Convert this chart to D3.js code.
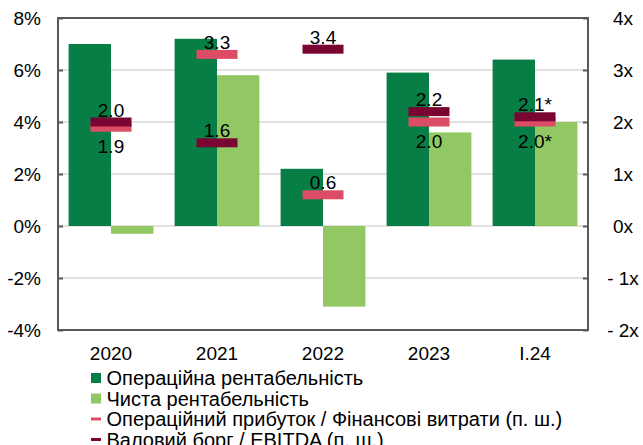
<!DOCTYPE html>
<html>
<head>
<meta charset="utf-8">
<script src="https://cdn.jsdelivr.net/npm/d3@7"></script>
<style>
  body { margin: 0; background: #fff; }
  svg { font-family: "Liberation Sans", Arial, sans-serif; }
</style>
</head>
<body>
<svg id="chart"></svg>
<script>
const categories = ["2020", "2021", "2022", "2023", "I.24"];
const opMargin = [7.0, 7.2, 2.2, 5.9, 6.4];
const netMargin = [-0.3, 5.8, -3.1, 3.6, 4.0];
const opProfitToFin = [1.9, 3.3, 0.6, 2.0, 2.0];
const debtToEbitda = [2.0, 1.6, 3.4, 2.2, 2.1];
const labelNote = ["", "", "", "", "*"];
const pinkLabelPos = ["below", "above", "above", "below", "below"];
const darkLabelPos = ["above", "above", "above", "above", "above"];
const leftTicks = [-4, -2, 0, 2, 4, 6, 8];
const rightTicks = [-2, -1, 0, 1, 2, 3, 4];
const legendItems = [
  {name: "Операційна рентабельність", color: "#077e45", type: "rect"},
  {name: "Чиста рентабельність", color: "#92c864", type: "rect"},
  {name: "Операційний прибуток / Фінансові витрати (п. ш.)", color: "#dc4c64", type: "line"},
  {name: "Валовий борг / EBITDA (п. ш.)", color: "#7a0532", type: "line"}
];

const width = 643, height = 445;
const plotLeft = 58, plotRight = 588, plotTop = 18, plotBottom = 330;
const fontSize = "19px";

const svg = d3.select("#chart").attr("width", width).attr("height", height);

const x = d3.scaleBand().domain(categories).range([plotLeft, plotRight])
  .paddingInner(0.2).paddingOuter(0.1);
const x1 = d3.scaleBand().domain(["op", "net"]).range([0, x.bandwidth()]);
const y = d3.scaleLinear().domain([-4, 8]).range([plotBottom, plotTop]);
const y2 = d3.scaleLinear().domain([-2, 4]).range([plotBottom, plotTop]);

// сітка
svg.append("g").selectAll("line").data(leftTicks).join("line")
  .attr("x1", plotLeft).attr("x2", plotRight)
  .attr("y1", d => y(d)).attr("y2", d => y(d))
  .attr("stroke", "#d9d9d9").attr("stroke-width", 1.5);

// стовпці
const barData = [];
categories.forEach((c, i) => {
  barData.push({c: c, key: "op", v: opMargin[i], color: "#077e45"});
  barData.push({c: c, key: "net", v: netMargin[i], color: "#92c864"});
});
svg.append("g").selectAll("rect").data(barData).join("rect")
  .attr("x", d => x(d.c) + x1(d.key))
  .attr("width", x1.bandwidth())
  .attr("y", d => y(Math.max(0, d.v)))
  .attr("height", d => Math.abs(y(d.v) - y(0)))
  .attr("fill", d => d.color);

// рамка
svg.append("rect")
  .attr("x", plotLeft).attr("y", plotTop)
  .attr("width", plotRight - plotLeft).attr("height", plotBottom - plotTop)
  .attr("fill", "none").attr("stroke", "#595959").attr("stroke-width", 2);

// осі
const yAxis = svg.append("g").attr("transform", `translate(${plotLeft},0)`)
  .call(d3.axisLeft(y).tickValues(leftTicks).tickSizeInner(-5).tickSizeOuter(0)
    .tickPadding(17).tickFormat(d => d + "%"));
const y2Axis = svg.append("g").attr("transform", `translate(${plotRight},0)`)
  .call(d3.axisRight(y2).tickValues(rightTicks).tickSizeInner(-5).tickSizeOuter(0)
    .tickFormat(d => (d < 0 ? "- " + Math.abs(d) : d) + "x"));
[yAxis, y2Axis].forEach(g => {
  g.select(".domain").remove();
  g.selectAll(".tick line").attr("stroke", "#595959").attr("stroke-width", 2);
  g.selectAll(".tick text").attr("fill", "#000").attr("font-size", fontSize)
    .attr("font-family", "Liberation Sans, Arial, sans-serif");
});
y2Axis.selectAll(".tick text").attr("text-anchor", "middle").attr("x", 35);

const xAxis = svg.append("g").attr("transform", `translate(0,${plotBottom})`)
  .call(d3.axisBottom(x).tickSize(0).tickPadding(17));
xAxis.select(".domain").remove();
xAxis.selectAll(".tick text").attr("fill", "#000").attr("font-size", fontSize)
  .attr("font-family", "Liberation Sans, Arial, sans-serif");

// маркери (п. ш.)
const mw = 41, mh = 9;
function markers(values, color, pos) {
  const g = svg.append("g");
  g.selectAll("rect").data(values).join("rect")
    .attr("x", (d, i) => x(categories[i]) + x.bandwidth() / 2 - mw / 2)
    .attr("y", d => y2(d) - mh / 2)
    .attr("width", mw).attr("height", mh)
    .attr("fill", color);
  g.selectAll("text").data(values).join("text")
    .attr("x", (d, i) => x(categories[i]) + x.bandwidth() / 2)
    .attr("y", (d, i) => pos[i] === "above" ? y2(d) - mh / 2 - 1 : y2(d) + mh / 2 + 21)
    .attr("text-anchor", "middle")
    .attr("font-size", fontSize)
    .text((d, i) => d.toFixed(1) + labelNote[i]);
}
markers(opProfitToFin, "#dc4c64", pinkLabelPos);
markers(debtToEbitda, "#7a0532", darkLabelPos);

// легенда
const legend = svg.append("g").attr("transform", "translate(91,0)");
const rowY = [378, 398.5, 419, 439.5];
legendItems.forEach((it, i) => {
  const g = legend.append("g").attr("transform", `translate(0,${rowY[i]})`);
  if (it.type === "rect") {
    g.append("rect").attr("x", 0).attr("y", -5).attr("width", 10).attr("height", 10).attr("fill", it.color);
  } else {
    g.append("rect").attr("x", 0).attr("y", -1.5).attr("width", 10).attr("height", 3).attr("fill", it.color);
  }
  g.append("text").attr("x", 15.5).attr("dy", "0.35em")
    .attr("font-size", "20px").text(it.name);
});
</script>
</body>
</html>
